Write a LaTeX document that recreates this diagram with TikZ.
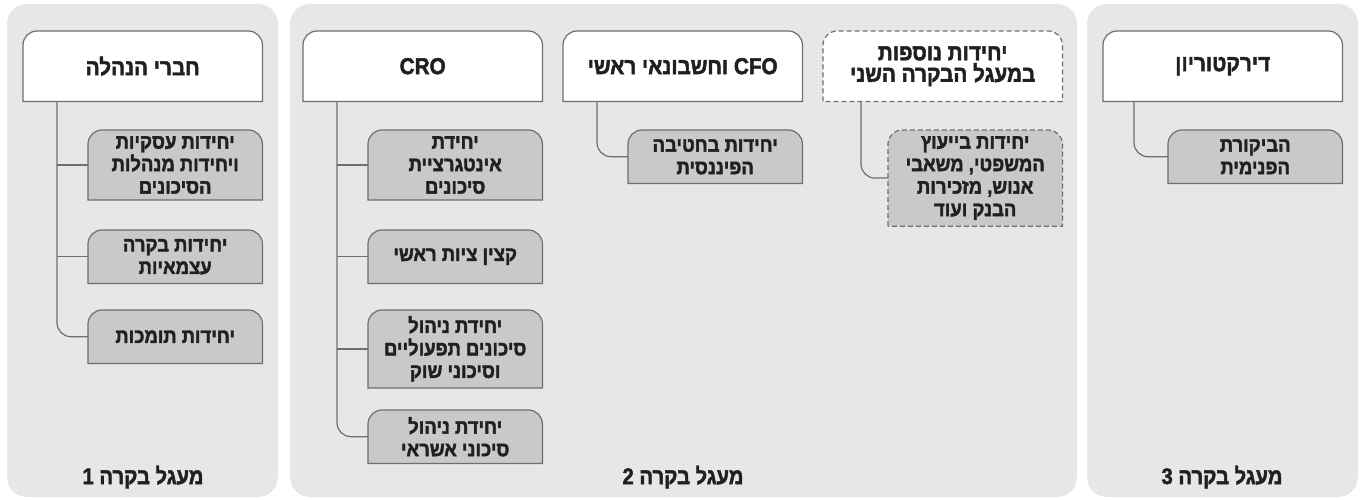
\documentclass[tikz,border=0pt]{standalone}
\usepackage{fontspec}
\newfontfamily\hebfont[Script=Hebrew, FakeBold=2, FakeStretch=0.9]{Liberation Sans Bold}
\TeXXeTstate=1
\usetikzlibrary{backgrounds}

\definecolor{panelgray}{HTML}{E6E7E8}
\definecolor{unitgray}{HTML}{C8C9CB}
\definecolor{edgegray}{HTML}{6D6E70}
\definecolor{inkblack}{HTML}{231F20}

\newcommand{\heb}[1]{\beginR #1\endR}
% box with rounded top corners only, drawn round an existing node
\newcommand{\tabshape}[2][]{%
  \draw[#1] (#2.south west) -- ([yshift=-14pt]#2.north west)
    arc[start angle=180, end angle=90, radius=14pt]
    -- ([xshift=-14pt]#2.north east)
    arc[start angle=90, end angle=0, radius=14pt]
    -- (#2.south east) -- cycle;}

\begin{document}
\begin{tikzpicture}[x=1pt, y=1pt,
    head/.style={anchor=north west, minimum width=239pt, minimum height=70pt,
      inner sep=0pt, align=center, text=inkblack,
      font=\hebfont\fontsize{23}{21.5}\selectfont},
    unit/.style={anchor=north west, minimum width=174pt, minimum height=53pt,
      inner xsep=0pt, inner ysep=6pt, align=center, text=inkblack,
      font=\hebfont\fontsize{20.5}{22.5}\selectfont},
    foot/.style={text=inkblack, font=\hebfont\fontsize{22.5}{24}\selectfont},
    link/.style={draw=edgegray, line width=1.2pt, rounded corners=14pt}]
  \useasboundingbox (0,0) rectangle (1362,-499);

  % circle 1
  \node[head] (mgmt) at (23,-31) {\heb{חברי הנהלה}};
  \node[unit] (biz) at (88,-130) {\heb{יחידות עסקיות}\\\heb{ויחידות מנהלות}\\\heb{הסיכונים}};
  \node[unit] (indep) at (88,-230) {\heb{יחידות בקרה}\\\heb{עצמאיות}};
  \node[unit] (support) at (88,-310) {\heb{יחידות תומכות}};
  \node[foot] (ring1) at (143,-477) {\heb{מעגל בקרה 1}};

  % circle 2
  \node[head] (cro) at (303,-31) {CRO};
  \node[unit] (integ) at (368,-130) {\heb{יחידת}\\\heb{אינטגרציית}\\\heb{סיכונים}};
  \node[unit] (compl) at (368,-230) {\heb{קצין ציות ראשי}};
  \node[unit] (oprisk) at (368,-310) {\heb{יחידת ניהול}\\\heb{סיכונים תפעוליים}\\\heb{וסיכוני שוק}};
  \node[unit] (credit) at (368,-410) {\heb{יחידת ניהול}\\\heb{סיכוני אשראי}};

  \node[head] (cfo) at (563,-31) {\heb{\beginL CFO\endL{} וחשבונאי ראשי}};
  \node[unit] (fin) at (628,-130) {\heb{יחידות בחטיבה}\\\heb{הפיננסית}};

  \node[head] (more) at (823,-31) {\heb{יחידות נוספות}\\\heb{במעגל הבקרה השני}};
  \node[unit] (legal) at (888,-130) {\heb{יחידות בייעוץ}\\\heb{המשפטי, משאבי}\\\heb{אנוש, מזכירות}\\\heb{הבנק ועוד}};
  \node[foot] (ring2) at (683,-477) {\heb{מעגל בקרה 2}};

  % circle 3
  \node[head] (board) at (1103,-31) {\heb{דירקטוריון}};
  \node[unit] (audit) at (1168,-130) {\heb{הביקורת}\\\heb{הפנימית}};
  \node[foot] (ring3) at (1222,-477) {\heb{מעגל בקרה 3}};

  \begin{scope}[on background layer]
    \fill[panelgray, rounded corners=20pt] (7,-4) rectangle (278,-497);
    \fill[panelgray, rounded corners=20pt] (290,-4) rectangle (1077,-497);
    \fill[panelgray, rounded corners=20pt] (1087,-4) rectangle (1358,-497);
    \foreach \n in {mgmt,cro,cfo,board}
      \tabshape[fill=white, draw=edgegray, line width=1.2pt]{\n};
    \tabshape[fill=white, draw=edgegray, line width=1.2pt, dash pattern=on 5pt off 3pt]{more};
    \foreach \n in {biz,indep,support,integ,compl,oprisk,credit,fin,audit}
      \tabshape[fill=unitgray, draw=edgegray, line width=1.2pt]{\n};
    \tabshape[fill=unitgray, draw=edgegray, line width=1.2pt, dash pattern=on 5pt off 3pt]{legal};
  \end{scope}

  % trunks
  \coordinate (mgmt-t) at ([xshift=34pt]mgmt.south west);
  \coordinate (cro-t) at ([xshift=34pt]cro.south west);
  \coordinate (cfo-t) at ([xshift=34pt]cfo.south west);
  \coordinate (more-t) at ([xshift=38pt]more.south west);
  \coordinate (board-t) at ([xshift=31pt]board.south west);

  \draw[link] (mgmt-t) |- (support.west);
  \foreach \u in {biz,indep}
    \draw[link] (mgmt-t |- \u.west) -- (\u.west);
  \draw[link] (cro-t) |- (credit.west);
  \foreach \u in {integ,compl,oprisk}
    \draw[link] (cro-t |- \u.west) -- (\u.west);
  \draw[link] (cfo-t) |- (fin.west);
  \draw[link] (more-t) |- (legal.west);
  \draw[link] (board-t) |- (audit.west);
\end{tikzpicture}
\end{document}
